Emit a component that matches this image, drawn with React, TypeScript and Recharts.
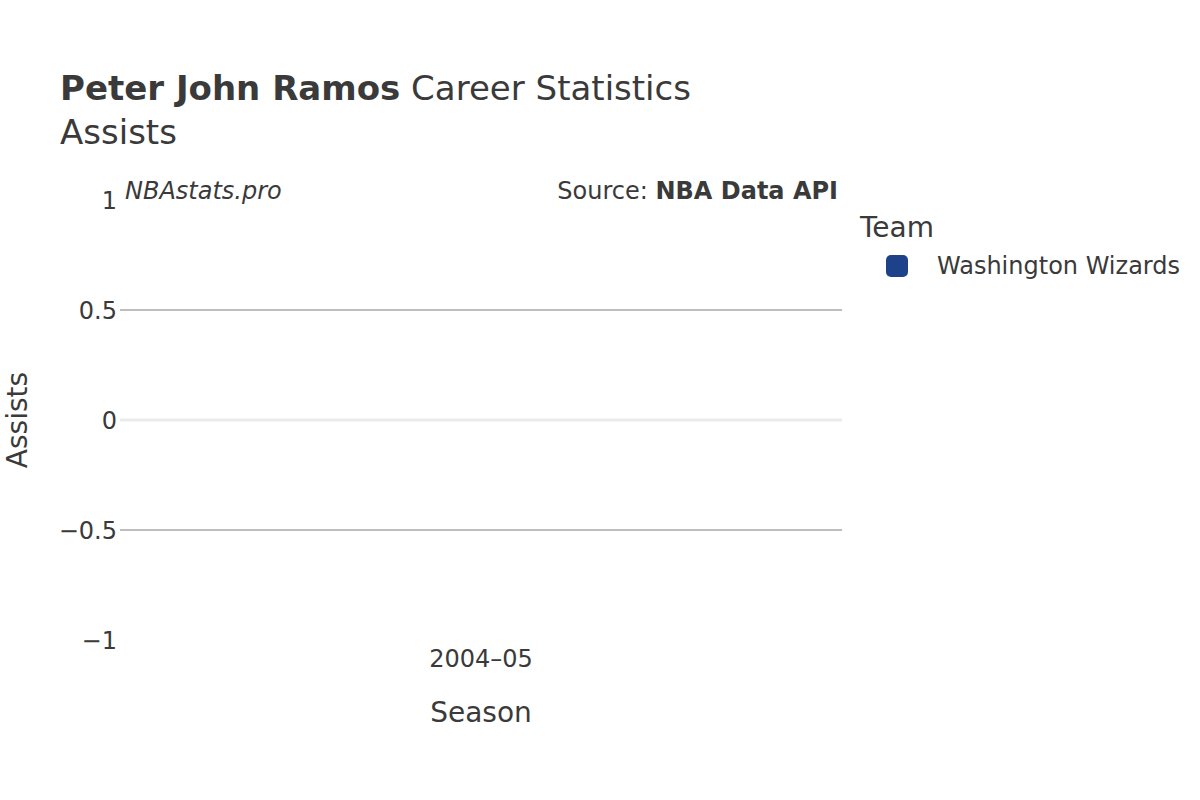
import React from 'react';
import { BarChart, Bar, XAxis, YAxis, ReferenceLine } from 'recharts';

const seasons = ['2004–05'];
const assists = [0];
const yTicks = [-1, -0.5, 0, 0.5, 1];
const gridValues = [-0.5, 0.5];
const teamName = 'Washington Wizards';
const teamColor = '#1d4289';

const chartData = seasons.map((season, i) => ({ season, assists: assists[i] }));

const FONT = '"DejaVu Sans", sans-serif';
const TEXT = '#3a3a3a';

// zero-height bar still shows as a faint strip on the zero line
const FlatBar = (props: any) => {
  const { x, y, width } = props;
  if (x == null || y == null) return null;
  return <rect x={x} y={y - 1} width={width} height={2} fill="#f7f7f7" />;
};

const TeamLegend = () => (
  <div style={{ position: 'absolute', left: 860, top: 211, fontFamily: FONT, color: TEXT }}>
    <div style={{ fontSize: 28, lineHeight: '34px' }}>Team</div>
    <div style={{ display: 'flex', alignItems: 'center', marginTop: 7 }}>
      <div
        style={{
          width: 22,
          height: 22,
          borderRadius: 5,
          background: teamColor,
          marginLeft: 26,
          marginRight: 29,
        }}
      />
      <span style={{ fontSize: 24 }}>{teamName}</span>
    </div>
  </div>
);

const App: React.FC = () => {
  return (
    <div style={{ position: 'absolute', left: 0, top: 0, width: 1200, height: 800, background: '#fff' }}>
      <div style={{ position: 'absolute', left: 60, top: 66, fontFamily: FONT, color: TEXT, fontSize: 34, lineHeight: '44px' }}>
        <div>
          <b>Peter John Ramos</b> Career Statistics
        </div>
        <div>Assists</div>
      </div>
      <div style={{ position: 'absolute', left: 125, top: 177, fontFamily: FONT, color: TEXT, fontSize: 24, fontStyle: 'italic' }}>
        NBAstats.pro
      </div>
      <div style={{ position: 'absolute', right: 1200 - 838, top: 177, fontFamily: FONT, color: TEXT, fontSize: 24 }}>
        Source: <b>NBA Data API</b>
      </div>
      <TeamLegend />
      <BarChart
        width={1200}
        height={800}
        data={chartData}
        margin={{ top: 200, right: 358, bottom: 0, left: 0 }}
        barCategoryGap="10%"
      >
        <ReferenceLine y={0} stroke="#ebebeb" strokeWidth={3} />
        {gridValues.map((v) => (
          <ReferenceLine key={v} y={v} stroke="#bdbdbd" strokeWidth={2} />
        ))}
        <XAxis
          dataKey="season"
          axisLine={false}
          tickLine={false}
          height={160}
          tickMargin={4}
          tick={{ fontFamily: FONT, fontSize: 24, fill: TEXT }}
          label={{ value: 'Season', position: 'insideTop', offset: 62, style: { fontFamily: FONT, fontSize: 28, fill: TEXT } }}
        />
        <YAxis
          domain={[-1, 1]}
          ticks={yTicks}
          width={120}
          axisLine={false}
          tickLine={false}
          tickSize={0}
          tickMargin={3}
          tickFormatter={(v: number) => String(v).replace('-', '−')}
          tick={{ fontFamily: FONT, fontSize: 24, fill: TEXT }}
          label={{
            value: 'Assists',
            angle: -90,
            position: 'insideLeft',
            offset: 17,
            style: { fontFamily: FONT, fontSize: 28, fill: TEXT, textAnchor: 'middle' },
          }}
        />
        <Bar dataKey="assists" name={teamName} fill={teamColor} shape={<FlatBar />} isAnimationActive={false} />
      </BarChart>
    </div>
  );
};

export default App;
